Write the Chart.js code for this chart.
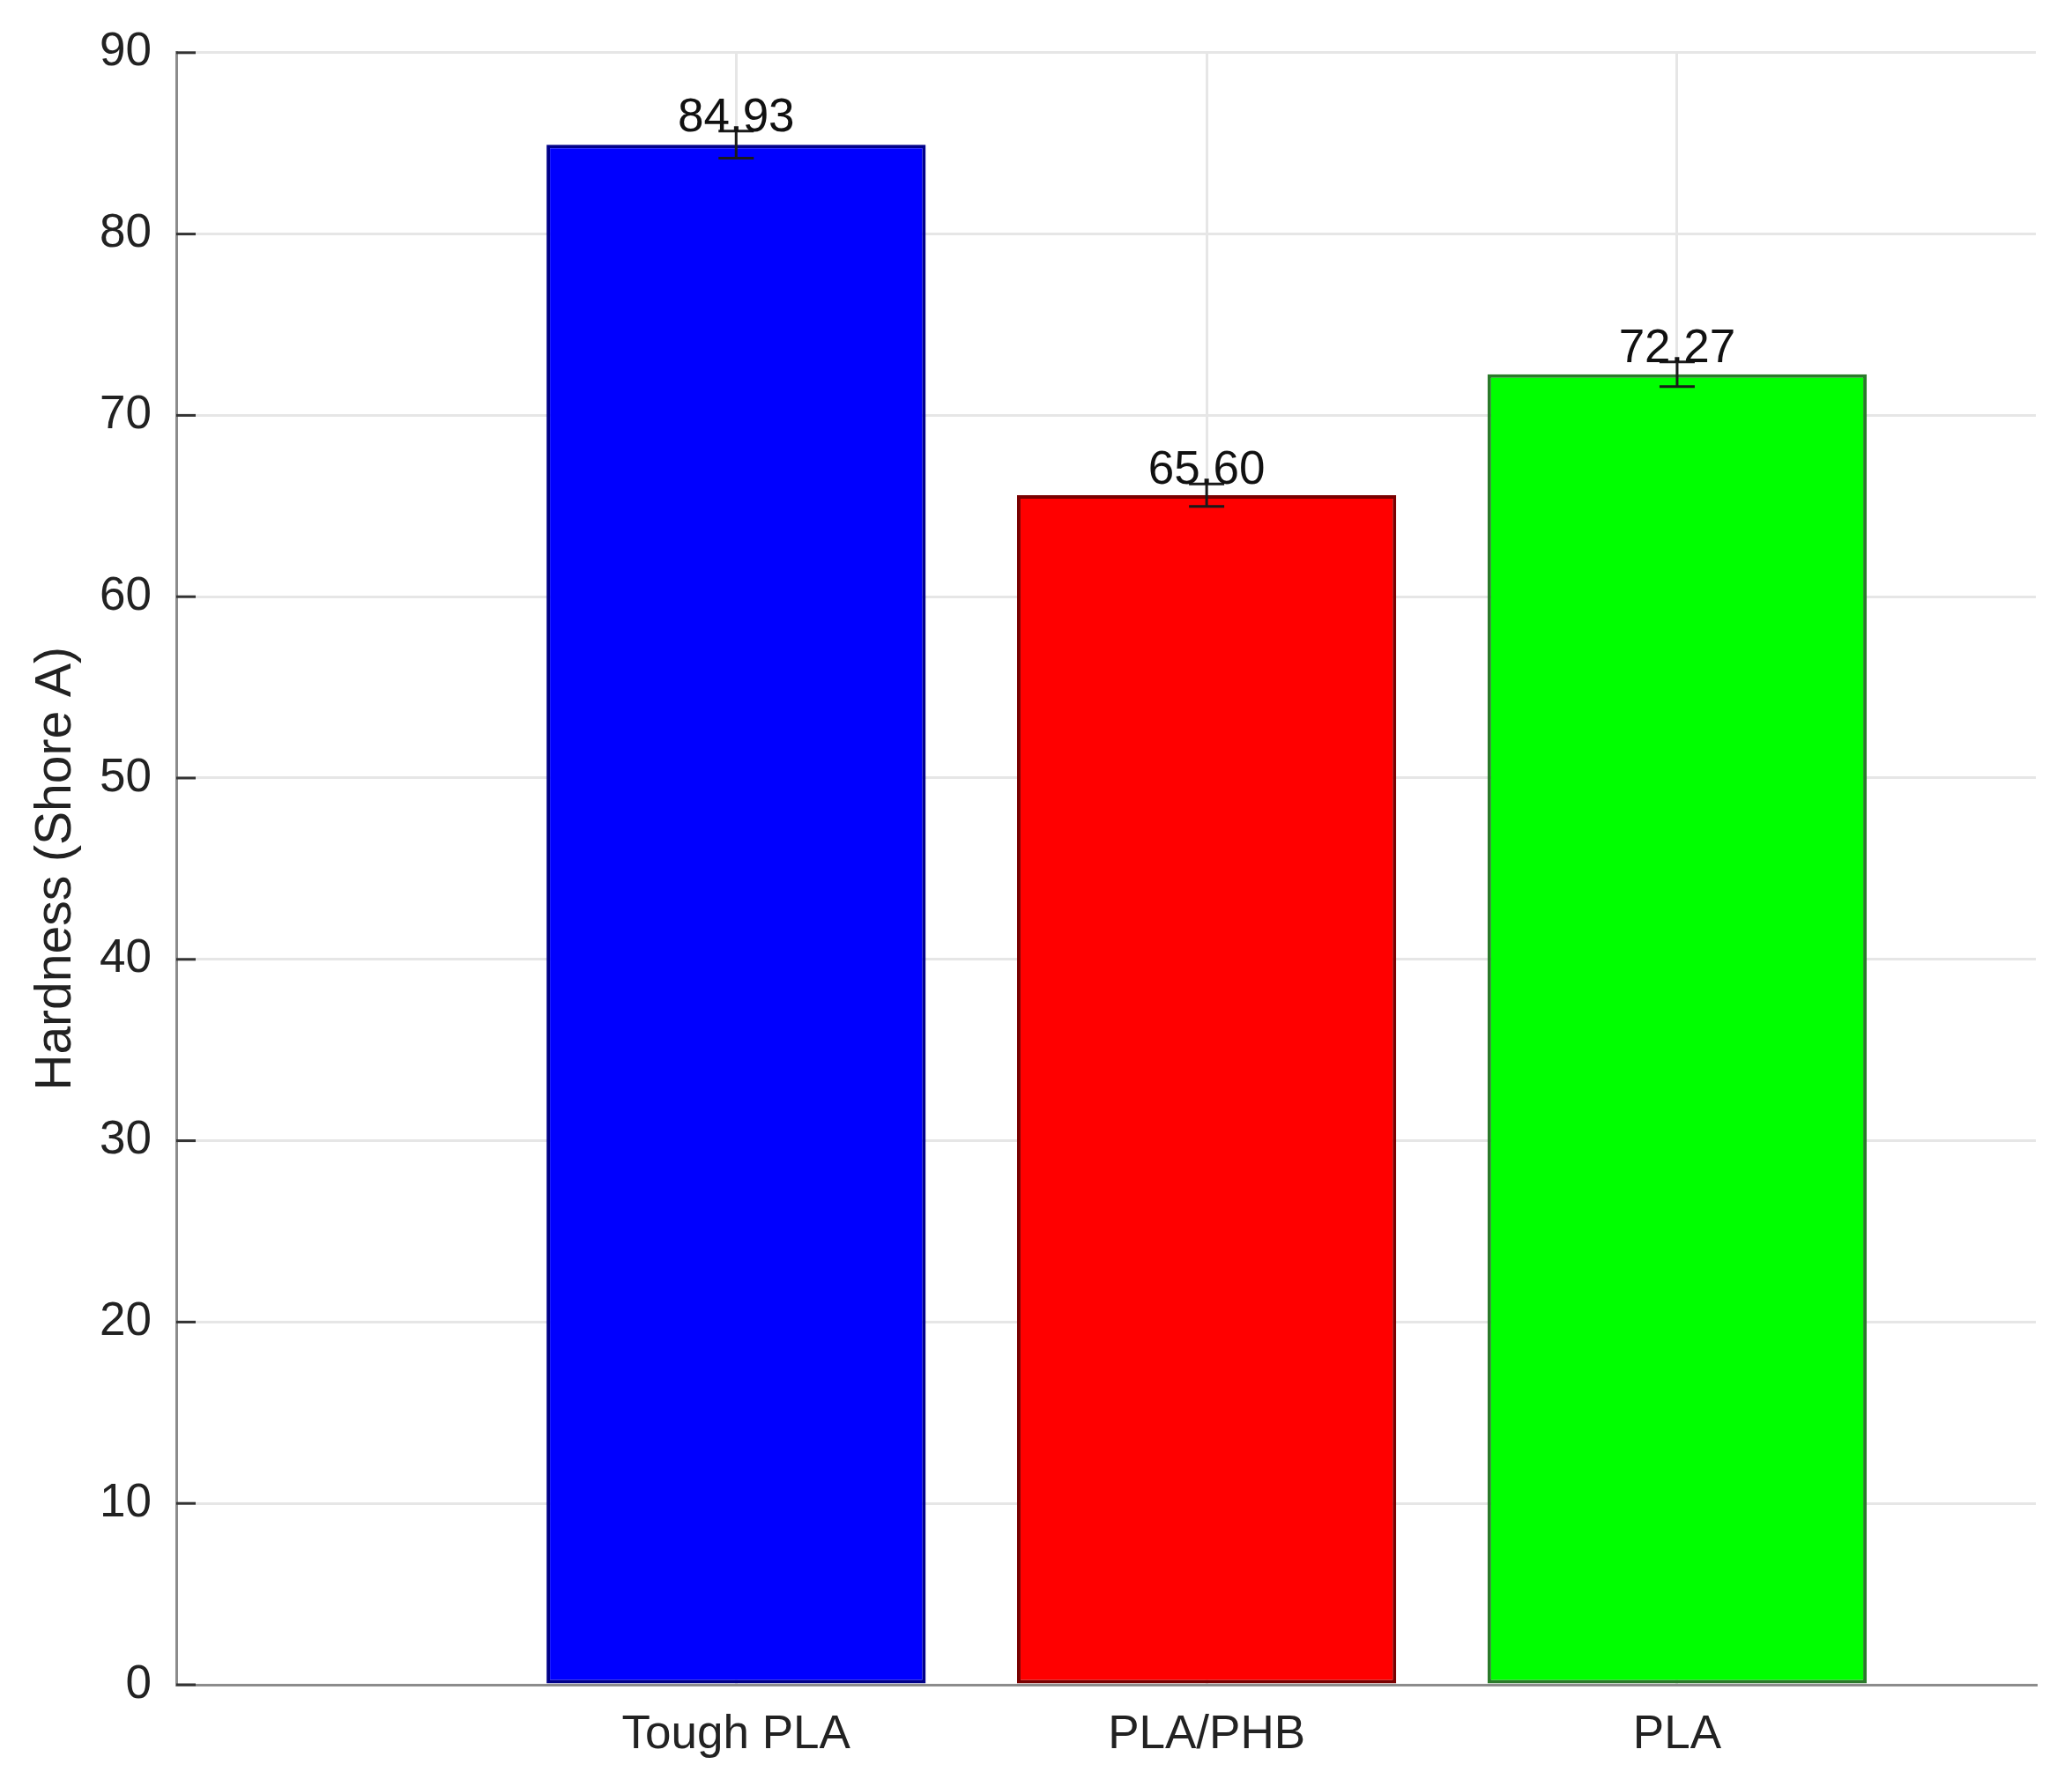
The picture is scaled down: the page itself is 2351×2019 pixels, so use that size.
<!DOCTYPE html>
<html>
<head>
<meta charset="utf-8">
<script src="https://cdn.jsdelivr.net/npm/chart.js@4.4.0/dist/chart.umd.min.js"></script>
<style>
  html, body { margin: 0; padding: 0; background: #ffffff; }
  #wrap { width: 2351px; height: 2019px; }
</style>
</head>
<body>
<div id="wrap"><canvas id="c" width="2351" height="2019"></canvas></div>
<script>
// ---- data ----
const categories = ['Tough PLA', 'PLA/PHB', 'PLA'];
const hardness = [84.93, 65.60, 72.27];
const hardnessErr = [0.75, 0.62, 0.68];
const yTickValues = [0, 10, 20, 30, 40, 50, 60, 70, 80, 90];
const yTitle = 'Hardness (Shore A)';

// ---- styles ----
const barColors = ['#0000ff', '#ff0000', '#00ff00'];
const barEdgeColors = ['#00008a', '#7a0000', '#2a7a2a'];
const FONT = '"Liberation Sans", Arial, Helvetica, sans-serif';
const GRID = '#e6e6e6';
const AXIS = '#8c8c8c';

const errorBarPlugin = {
  id: 'errorBars',
  afterDatasetsDraw(chart) {
    const { ctx, scales: { y } } = chart;
    const meta = chart.getDatasetMeta(0);
    ctx.save();
    meta.data.forEach((bar, i) => {
      const v = hardness[i], e = hardnessErr[i];
      const cx = bar.x;
      const yTop = y.getPixelForValue(v + e);
      const yBot = y.getPixelForValue(v - e);
      ctx.strokeStyle = '#1a1a1a';
      ctx.lineWidth = 3;
      ctx.beginPath();
      ctx.moveTo(cx, yTop); ctx.lineTo(cx, yBot);
      ctx.moveTo(cx - 20, yTop); ctx.lineTo(cx + 20, yTop);
      ctx.moveTo(cx - 20, yBot); ctx.lineTo(cx + 20, yBot);
      ctx.stroke();
      ctx.fillStyle = '#111111';
      ctx.font = '53px ' + FONT;
      ctx.textAlign = 'center';
      ctx.textBaseline = 'alphabetic';
      ctx.fillText(v.toFixed(2), cx, yTop);
    });
    ctx.restore();
  }
};

const inwardTicks = {
  id: 'inwardTicks',
  afterDraw(chart) {
    const { ctx, scales: { y }, chartArea } = chart;
    ctx.save();
    ctx.strokeStyle = '#333333';
    ctx.lineWidth = 3;
    y.ticks.forEach(t => {
      const py = y.getPixelForValue(t.value);
      ctx.beginPath();
      ctx.moveTo(chartArea.left, py);
      ctx.lineTo(chartArea.left + 22, py);
      ctx.stroke();
    });
    ctx.restore();
  }
};

new Chart(document.getElementById('c'), {
  type: 'bar',
  data: {
    datasets: [{
      data: hardness.map((v, i) => ({ x: i + 1, y: v })),
      backgroundColor: barColors,
      borderColor: barEdgeColors,
      borderWidth: 4,
      borderSkipped: false,
      categoryPercentage: 1,
      barPercentage: 0.806
    }]
  },
  options: {
    responsive: false,
    devicePixelRatio: 1,
    animation: false,
    layout: { padding: { top: 57, right: 41, left: 0, bottom: 0 } },
    plugins: { legend: { display: false }, tooltip: { enabled: false } },
    scales: {
      x: {
        type: 'linear',
        offset: false,
        min: -0.19,
        max: 3.7625,
        afterBuildTicks: s => { s.ticks = categories.map((c, i) => ({ value: i + 1 })); },
        afterFit: s => { s.height = 107; },
        ticks: {
          callback: v => categories[v - 1],
          font: { family: FONT, size: 53 },
          color: '#222222',
          padding: 26,
          autoSkip: false,
          maxRotation: 0
        },
        grid: { color: GRID, lineWidth: 3, drawTicks: false, offset: false },
        border: { color: AXIS, width: 3 }
      },
      y: {
        min: 0,
        max: 90,
        afterBuildTicks: s => { s.ticks = yTickValues.map(v => ({ value: v })); },
        afterFit: s => { s.width = 200; },
        ticks: {
          font: { family: FONT, size: 53 },
          color: '#222222',
          padding: 28
        },
        grid: { color: GRID, lineWidth: 3, drawTicks: false },
        border: { color: AXIS, width: 3 },
        title: {
          display: true,
          text: yTitle,
          font: { family: FONT, size: 57 },
          color: '#222222',
          padding: { top: 30, bottom: 0 }
        }
      }
    }
  },
  plugins: [errorBarPlugin, inwardTicks]
});
</script>
</body>
</html>
